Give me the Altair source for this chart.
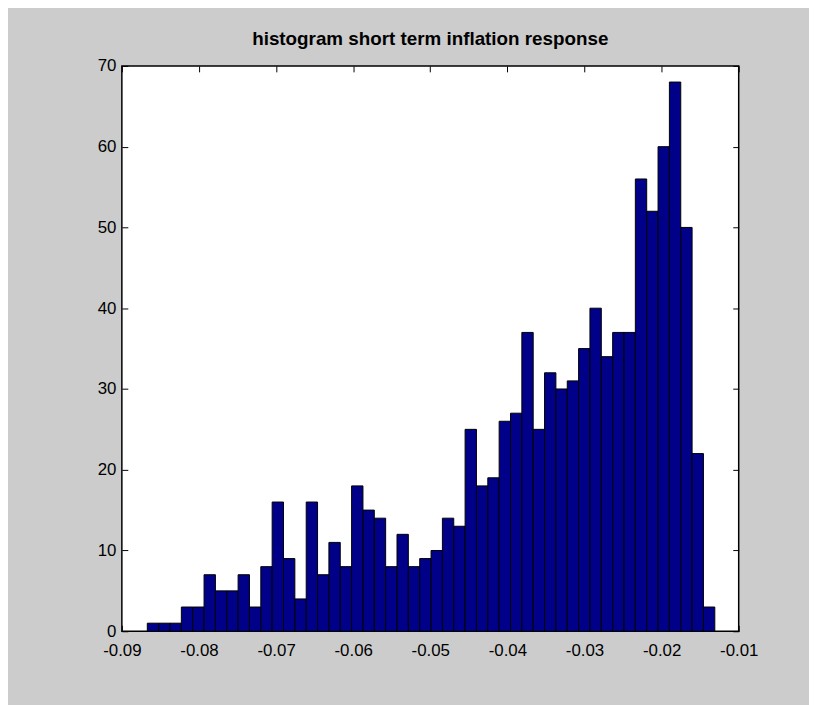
import altair as alt
import pandas as pd

# Histogram counts (50 equal-width bins)
counts = [1, 1, 1, 3, 3, 7, 5, 5, 7, 3,
          8, 16, 9, 4, 16, 7, 11, 8, 18, 15,
          14, 8, 12, 8, 9, 10, 14, 13, 25, 18,
          19, 26, 27, 37, 25, 32, 30, 31, 35, 40,
          34, 37, 37, 56, 52, 60, 68, 50, 22, 3]
first_edge = -0.0867
last_edge = -0.0131
x_ticks = [-0.09, -0.08, -0.07, -0.06, -0.05, -0.04, -0.03, -0.02, -0.01]
y_ticks = [0, 10, 20, 30, 40, 50, 60, 70]
title_text = "histogram short term inflation response"

n = len(counts)
w = (last_edge - first_edge) / n
df = pd.DataFrame({
    "x0": [first_edge + i * w for i in range(n)],
    "x1": [first_edge + (i + 1) * w for i in range(n)],
    "count": counts,
    "zero": [0] * n,
})

W, H = 623, 571
FONT = "Liberation Sans, Arial, sans-serif"
xs = alt.Scale(domain=[-0.09, -0.01], nice=False, zero=False)
ys = alt.Scale(domain=[0, 70], nice=False)

common = dict(grid=False, domain=False, title=None)
tick_style = dict(ticks=True, tickSize=6, tickColor="black", tickWidth=1, labels=False)

base = alt.Chart(df)

bars = base.mark_rect(fill="#000088", stroke="black", strokeWidth=1).encode(
    x=alt.X("x0:Q", scale=xs, axis=alt.Axis(
        orient="bottom", values=x_ticks, ticks=False, tickSize=0, labelPadding=11,
        labelExpr="'-' + format(abs(datum.value), '.2f')", labelFont=FONT, labelFontSize=17,
        labelColor="black", labelFlush=False, labelOverlap=False, **common)),
    x2="x1:Q",
    y=alt.Y("count:Q", scale=ys, axis=alt.Axis(
        orient="left", values=y_ticks, ticks=False, tickSize=0, labelPadding=6,
        labelFont=FONT, labelFontSize=17, labelColor="black", labelFlush=False,
        labelOverlap=False, labelBaseline="middle", **common)),
    y2="zero:Q",
)

# inward ticks on bottom and left edges
ticks_a = base.mark_rect(opacity=0).encode(
    x=alt.X("x0:Q", scale=xs, axis=alt.Axis(orient="top", offset=-H, values=x_ticks, **tick_style, **common)),
    x2="x1:Q",
    y=alt.Y("count:Q", scale=ys, axis=alt.Axis(orient="right", offset=-W, values=y_ticks, **tick_style, **common)),
    y2="zero:Q",
)

# inward ticks on top and right edges
ticks_b = base.mark_rect(opacity=0).encode(
    x=alt.X("x0:Q", scale=xs, axis=alt.Axis(orient="bottom", offset=-H, values=x_ticks, **tick_style, **common)),
    x2="x1:Q",
    y=alt.Y("count:Q", scale=ys, axis=alt.Axis(orient="left", offset=-W, values=y_ticks, **tick_style, **common)),
    y2="zero:Q",
)

chart = alt.layer(bars, ticks_a, ticks_b).resolve_axis(
    x="independent", y="independent"
).properties(
    width=W, height=H,
    title=alt.TitleParams(title_text, font=FONT, fontSize=19, fontWeight="bold",
                          color="black", anchor="middle", offset=8),
    background="#cccccc",
    padding={"left": 115, "top": 55, "right": 71, "bottom": 71},
    autosize=alt.AutoSizeParams(type="none"),
).configure_view(
    fill="white", stroke="black", strokeWidth=1.5
)

chart.save("out.html", embed_options={"renderer": "svg", "actions": False})
